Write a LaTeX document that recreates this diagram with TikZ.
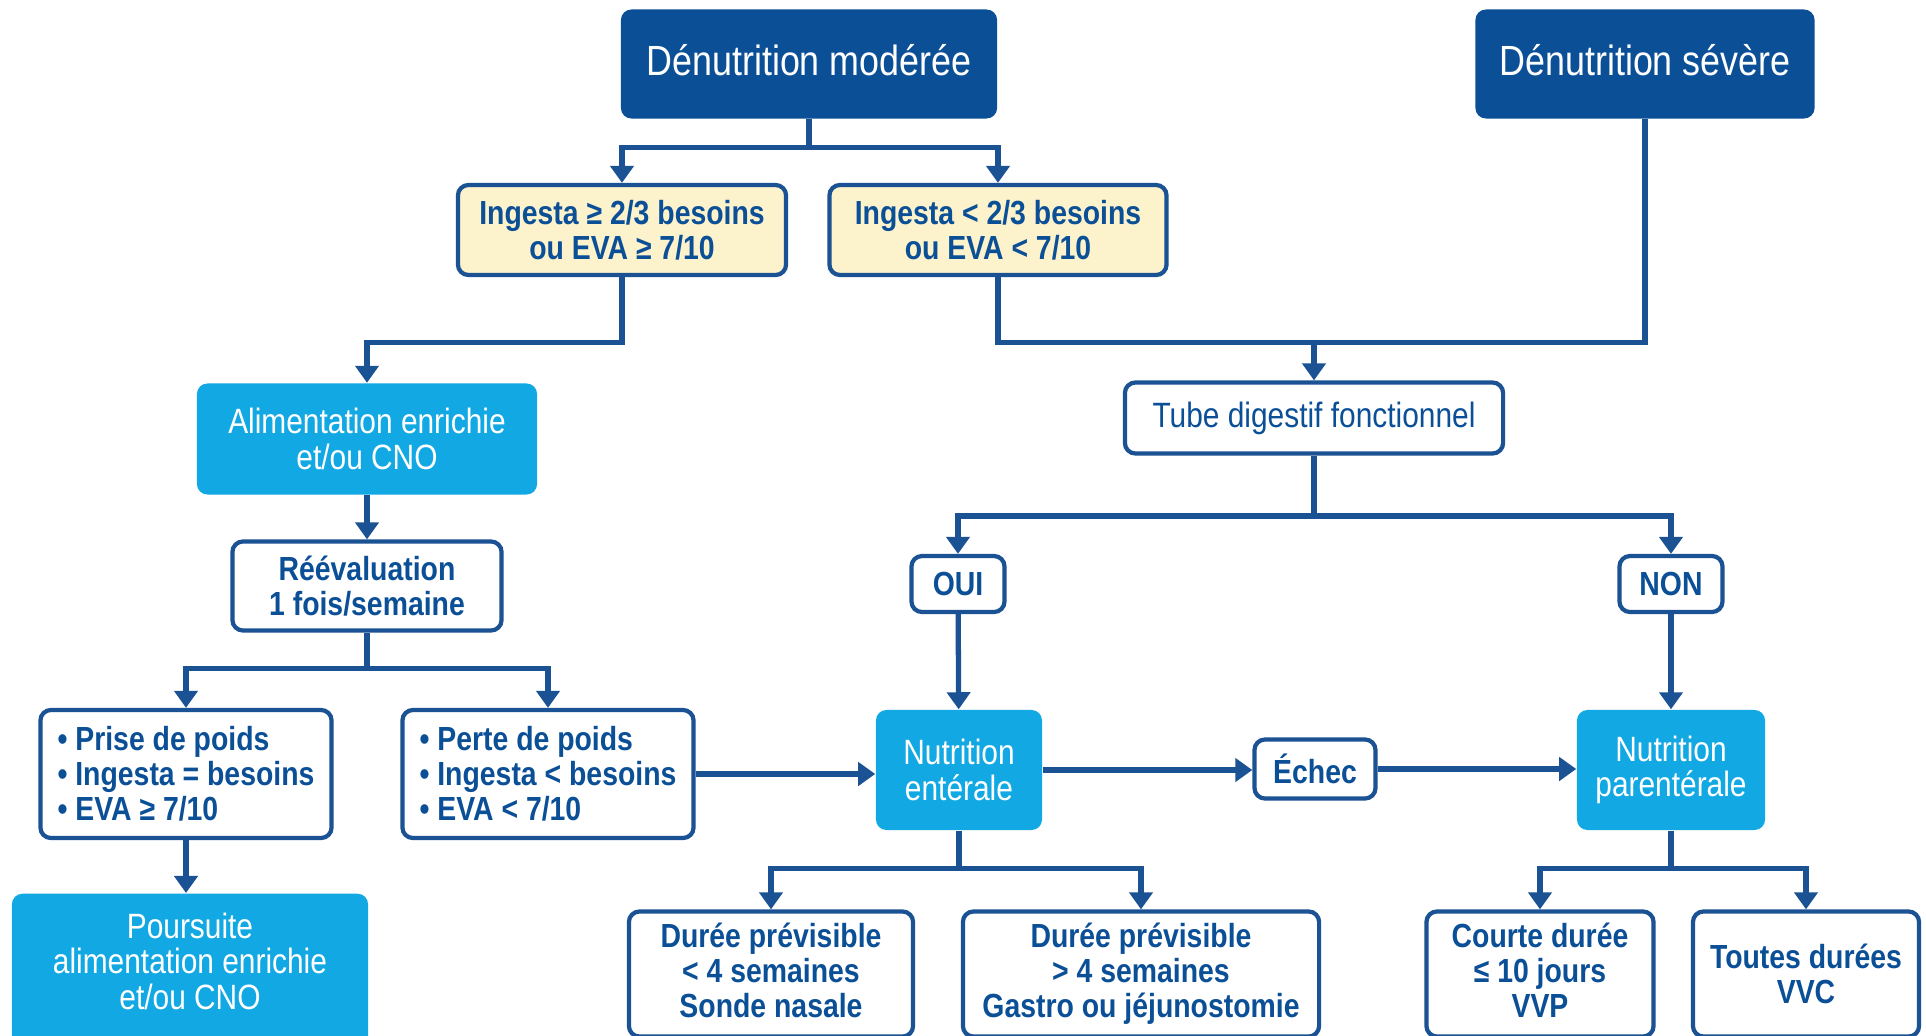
\documentclass[tikz,border=0pt]{standalone}
\usepackage{fontspec}
\setmainfont{Liberation Sans}[FakeStretch=0.85]
\usepackage{tikz}
\usetikzlibrary{arrows.meta}
\usetikzlibrary{positioning}

\definecolor{navy}{HTML}{0B4F97}
\definecolor{skyfill}{HTML}{12A8E3}
\definecolor{cream}{HTML}{FCF2CB}
\definecolor{linecol}{HTML}{1B5294}

\newcommand{\lowline}{\rule[-0.07cm]{0pt}{0pt}}

\tikzset{
  topbox/.style={fill=navy, text=white, rounded corners=3pt, align=center, text depth=0.08cm,
    font=\fontsize{12}{14}\selectfont},
  skybox/.style={fill=skyfill, text=white, rounded corners=3pt, align=center,
    font=\fontsize{10}{10}\selectfont},
  wbox/.style={draw=linecol, line width=1.2pt, fill=white, text=navy, rounded corners=3pt,
    align=center, inner sep=1pt, font=\bfseries\fontsize{9.5}{10}\selectfont},
  ybox/.style={wbox, fill=cream},
  link/.style={draw=linecol, line width=1.5pt},
  flow/.style={link, -{Triangle[length=0.17cm,width=0.23cm]}}
}

\begin{document}
\begin{tikzpicture}[x=0.01cm,y=-0.01cm]
\useasboundingbox (0,0) rectangle (1926,1036);

% top row
\node[topbox, minimum width=3.76cm, minimum height=1.09cm] (mod) at (809,64) {Dénutrition modérée};
\node[topbox, minimum width=3.39cm, minimum height=1.09cm] (sev) at (1645,64) {Dénutrition sévère};

\node[ybox, minimum width=3.28cm, minimum height=0.9cm] (ingsup) at (622,230) {Ingesta ≥ 2/3 besoins\\ou EVA ≥ 7/10};
\node[ybox, minimum width=3.37cm, minimum height=0.9cm] (inginf) at (998,230) {Ingesta < 2/3 besoins\\ou EVA < 7/10};

% left branch
\node[skybox, minimum width=3.4cm, minimum height=1.11cm] (alim) at (367,439) {Alimentation enrichie\\et/ou CNO};
\node[wbox, minimum width=2.69cm, minimum height=0.89cm] (reev) at (367,586) {Réévaluation\\1 fois/semaine};
\node[wbox, align=left, minimum width=2.91cm, minimum height=1.28cm] (prise) at (186,774) {• Prise de poids\\• Ingesta = besoins\\• EVA ≥ 7/10};
\node[wbox, align=left, minimum width=2.91cm, minimum height=1.28cm] (perte) at (548,774) {• Perte de poids\\• Ingesta < besoins\\• EVA < 7/10};
\node[skybox, anchor=north, minimum width=3.56cm, minimum height=1.8cm] (pours) at (190,893) {Poursuite\\alimentation enrichie\\et/ou CNO\rule[-0.45cm]{0pt}{0pt}};

% right branch
\node[wbox, font=\fontsize{10}{10}\selectfont, minimum width=3.78cm, minimum height=0.71cm] (tube) at (1314,418) {Tube digestif fonctionnel};
\node[wbox, minimum width=0.93cm, minimum height=0.56cm] (oui) at (958,584) {OUI};
\node[wbox, minimum width=1.03cm, minimum height=0.56cm] (non) at (1671,584) {NON};
\node[skybox, minimum width=1.66cm, minimum height=1.2cm] (ent) at (959,770) {Nutrition\\entérale};
\node[wbox, minimum width=1.21cm, minimum height=0.59cm] (echec) at (1315,769) {Échec};
\node[skybox, minimum width=1.88cm, minimum height=1.2cm] (par) at (1671,770) {Nutrition\\parentérale};

% bottom row
\node[wbox, minimum width=2.84cm, minimum height=1.25cm] (courtsonde) at (771,974) {Durée prévisible\\< 4 semaines\\Sonde nasale\lowline};
\node[wbox, minimum width=3.56cm, minimum height=1.25cm] (longgastro) at (1141,974) {Durée prévisible\\> 4 semaines\\Gastro ou jéjunostomie\lowline};
\node[wbox, minimum width=2.27cm, minimum height=1.25cm] (vvp) at (1540,974) {Courte durée\\≤ 10 jours\\VVP\lowline};
\node[wbox, minimum width=2.26cm, minimum height=1.25cm] (vvc) at (1806,974) {Toutes durées\\VVC};

% connectors
\draw[link] (mod.south) -- ++(0,28) coordinate (jmod);
\draw[flow] (jmod) -| (ingsup.north);
\draw[flow] (jmod) -| (inginf.north);

\draw[flow] (ingsup.south) -- ++(0,65) -| (alim.north);
\draw[link] (inginf.south) -- ++(0,65) -| (sev.south);
\coordinate (jtube) at (1314,340);
\draw[flow] (jtube) -- (tube.north);

\draw[flow] (alim) -- (reev);
\draw[link] (reev.south) -- ++(0,36) coordinate (jreev);
\draw[flow] (jreev) -| (prise.north);
\draw[flow] (jreev) -| (perte.north);
\draw[flow] (prise.south) -- (prise.south |- pours.north);
\draw[flow] (perte.east) -- (perte.east -| ent.west);

\draw[link] (tube.south) -- (1314,516) coordinate (jgut);
\draw[flow] (jgut) -| (oui.north);
\draw[flow] (jgut) -| (non.north);
\draw[flow] (oui) -- (ent);
\draw[flow] (non) -- (par);
\draw[flow] (ent.east) -- (ent.east -| echec.west);
\draw[flow] (echec.east) -- (echec.east -| par.west);

\draw[link] (ent.south) -- ++(0,38) coordinate (jent);
\draw[flow] (jent) -| (courtsonde.north);
\draw[flow] (jent) -| (longgastro.north);
\draw[link] (par.south) -- ++(0,38) coordinate (jpar);
\draw[flow] (jpar) -| (vvp.north);
\draw[flow] (jpar) -| (vvc.north);
\end{tikzpicture}
\end{document}
